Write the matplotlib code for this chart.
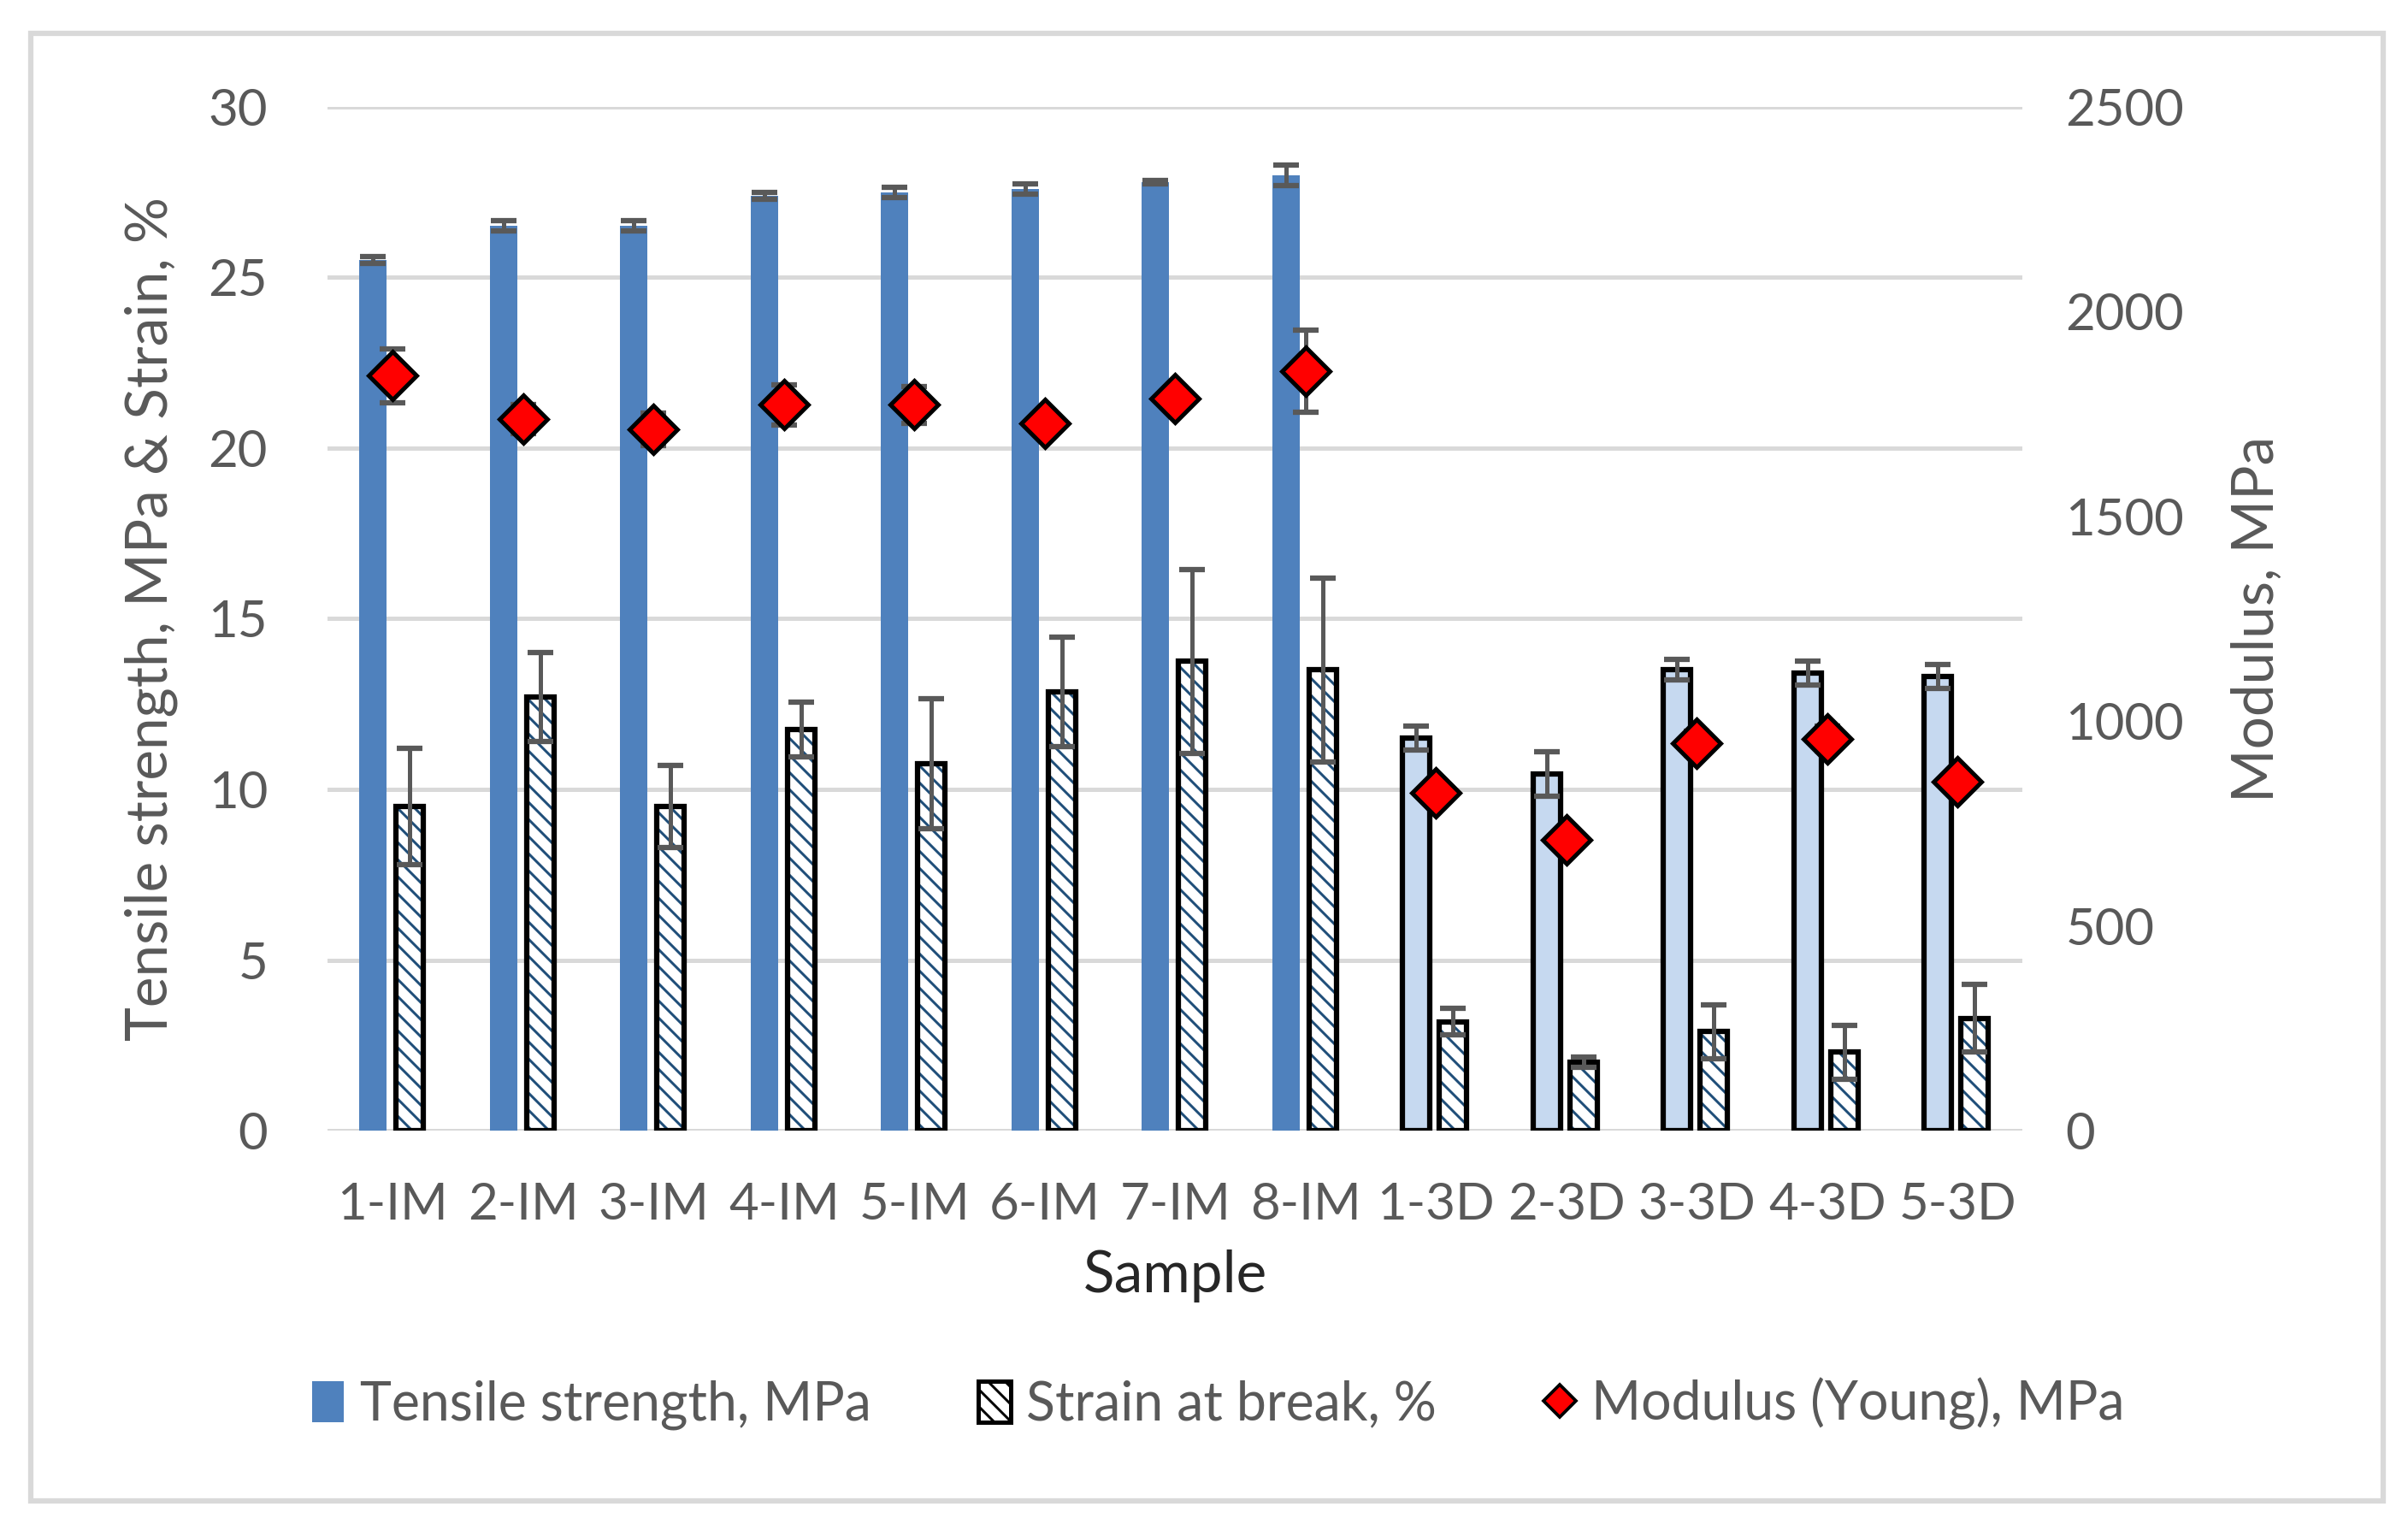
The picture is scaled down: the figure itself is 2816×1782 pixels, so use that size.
import matplotlib.pyplot as plt
import matplotlib.patches as mpatches
from matplotlib.lines import Line2D
import numpy as np

plt.rcParams['font.family'] = ['Lato', 'DejaVu Sans']

samples = ['1-IM', '2-IM', '3-IM', '4-IM', '5-IM', '6-IM', '7-IM', '8-IM',
           '1-3D', '2-3D', '3-3D', '4-3D', '5-3D']
tensile = [25.5, 26.5, 26.5, 27.4, 27.5, 27.6, 27.8, 28.0, 11.5, 10.45, 13.5, 13.4, 13.3]
tensile_err = [0.1, 0.15, 0.15, 0.1, 0.15, 0.15, 0.05, 0.3, 0.35, 0.65, 0.3, 0.35, 0.35]
strain = [9.5, 12.7, 9.5, 11.75, 10.75, 12.85, 13.75, 13.5, 3.2, 2.0, 2.9, 2.3, 3.3]
strain_err = [1.7, 1.3, 1.2, 0.8, 1.9, 1.6, 2.7, 2.7, 0.4, 0.15, 0.8, 0.8, 1.0]
modulus = [1843, 1738, 1712, 1772, 1772, 1727, 1787, 1855, 826, 710, 946, 957, 852]
modulus_err = [65, 35, 40, 50, 45, 10, 25, 100, 5, 5, 30, 30, 10]

grey = '#595959'
blue = '#4F81BD'
light_blue = '#C6D9F0'
hatch_blue = '#1F4E79'

fig = plt.figure(figsize=(2816 / 180, 1782 / 180), dpi=180)
ax = fig.add_axes([0.136, 0.258, 0.704, 0.672])

x = np.arange(len(samples))
w = 0.21
is_im = np.array(['IM' in s for s in samples])

# tensile strength bars: solid blue for IM, light blue with black outline for 3D
ax.bar(x[is_im] - 0.15, np.array(tensile)[is_im], w, color=blue, zorder=3)
ax.bar(x[~is_im] - 0.15, np.array(tensile)[~is_im], w, color=light_blue,
       edgecolor='black', linewidth=2.5, zorder=3)
ax.errorbar(x - 0.15, tensile, yerr=tensile_err, fmt='none', ecolor=grey,
            elinewidth=2, capsize=6, capthick=2.5, zorder=4)

# strain bars: hatched, black outline
plt.rcParams['hatch.linewidth'] = 1.2
ax.bar(x + 0.13, strain, w, color='white', edgecolor=hatch_blue, hatch='\\\\\\',
       linewidth=0, zorder=3)
ax.bar(x + 0.13, strain, w, fill=False, edgecolor='black', linewidth=2.5, zorder=3)
ax.errorbar(x + 0.13, strain, yerr=strain_err, fmt='none', ecolor=grey,
            elinewidth=2, capsize=6, capthick=2.5, zorder=4)

ax.set_ylim(0, 30)
ax.set_xlim(-0.5, len(samples) - 0.5)
ax.set_yticks(range(0, 31, 5))
ax.set_xticks(x)
ax.set_xticklabels(samples)
ax.grid(axis='y', color='#D9D9D9', linewidth=2, zorder=0)
ax.set_axisbelow(True)
for s in ax.spines.values():
    s.set_visible(False)
ax.tick_params(length=0, labelsize=24, labelcolor=grey, pad=28)
ax.tick_params(axis='x', pad=24)
ax.set_ylabel('Tensile strength, MPa & Strain, %', fontsize=27, color=grey, labelpad=14)
ax.set_xlabel('Sample', fontsize=27, color='#262626', labelpad=10)

ax2 = ax.twinx()
ax2.set_ylim(0, 2500)
ax2.set_yticks(range(0, 2501, 500))
for s in ax2.spines.values():
    s.set_visible(False)
ax2.tick_params(length=0, labelsize=24, labelcolor=grey, pad=20)
ax2.set_ylabel('Modulus, MPa', fontsize=27, color=grey, labelpad=22)
ax2.errorbar(x, modulus, yerr=modulus_err, fmt='none', ecolor=grey,
             elinewidth=2, capsize=6, capthick=2.5, zorder=4)
ax2.plot(x, modulus, 'D', color='red', markeredgecolor='black',
         markeredgewidth=2, markersize=16, linestyle='none', zorder=5)

handles = [
    mpatches.Patch(facecolor=blue, edgecolor='none'),
    mpatches.Patch(facecolor='white', edgecolor='black', hatch='\\\\\\', linewidth=2),
    Line2D([], [], marker='D', color='red', markeredgecolor='black',
           markeredgewidth=1.5, markersize=11, linestyle='none'),
]
fig.legend(handles, ['Tensile strength, MPa', 'Strain at break, %', 'Modulus (Young), MPa'],
           loc='center', bbox_to_anchor=(0.506, 0.079), ncol=3, frameon=False,
           fontsize=25, labelcolor=grey, handlelength=0.6, handleheight=0.8,
           handletextpad=0.3, columnspacing=2.0)

# outer chart border
fig.patches.append(mpatches.Rectangle((0.0128, 0.015), 0.977, 0.963,
                                      transform=fig.transFigure, fill=False,
                                      edgecolor='#D9D9D9', linewidth=2.5))

fig.savefig('out.png', dpi=180)
